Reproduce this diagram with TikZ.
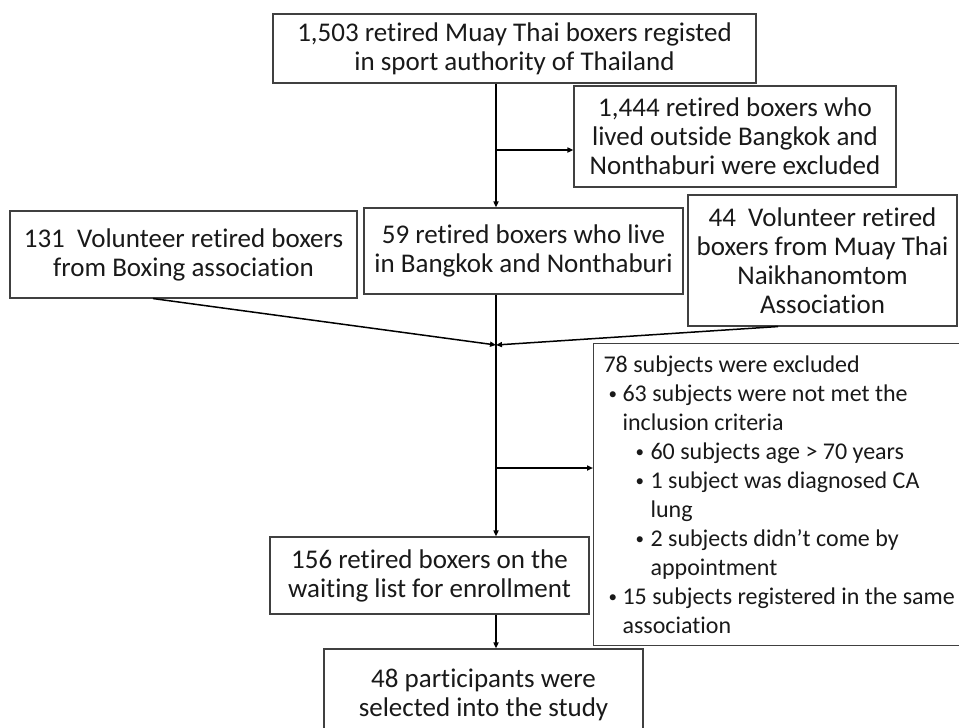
\documentclass[tikz,border=0pt]{standalone}
\usepackage{fontspec}
\setmainfont{Carlito}[Ligatures=NoCommon]
\usetikzlibrary{arrows.meta}

\begin{document}
\begin{tikzpicture}[x=1pt,y=-1pt]

% stile dei riquadri
\tikzset{mybox/.style={rectangle, draw=black!75, line width=1.1pt, align=center, inner sep=0pt, text=black!90, font=\fontsize{27}{29}\selectfont}}
% stile delle frecce
\tikzset{myarrow/.style={line width=1.5pt, draw=black, -{Triangle[length=6pt,width=5pt]}}}

% area del disegno
\useasboundingbox (0,0) rectangle (959,728);

% riquadri della colonna centrale
\node[mybox, minimum width=483pt, minimum height=69pt] (reg) at (514.5,48.5) {1,503 retired Muay Thai boxers registed\\in sport authority of Thailand};
\node[mybox, minimum width=319pt, minimum height=86pt] (live) at (523.5,251) {59 retired boxers who live\\in Bangkok and Nonthaburi};
\node[mybox, minimum width=319pt, minimum height=77pt] (wait) at (429.5,575.5) {156 retired boxers on the\\waiting list for enrollment};
\node[mybox, minimum width=319pt, minimum height=92pt] (final) at (483.5,695) {48 participants were\\selected into the study};

% riquadri laterali
\node[mybox, minimum width=322pt, minimum height=101pt] (out1) at (735,136.5) {1,444 retired boxers who\\lived outside Bangkok and\\Nonthaburi were excluded};
\node[mybox, minimum width=347pt, minimum height=87pt] (vol1) at (183.5,254.5) {131\ \ Volunteer retired boxers\\from Boxing association};
\node[mybox, minimum width=269pt, minimum height=131pt] (vol2) at (822.5,260.5) {44\ \ Volunteer retired\\boxers from Muay Thai\\Naikhanomtom\\Association};

% riquadro degli esclusi con elenco puntato
\node[mybox, font=\fontsize{24}{29}\selectfont, anchor=north west, align=flush left, text width=420pt, inner xsep=10pt, minimum height=302pt] (out2) at (593,343) {78 subjects were excluded\\
\hspace*{5pt}\makebox[14pt][l]{\raisebox{1.5pt}{\fontsize{17}{17}\selectfont\textbullet}}63 subjects were not met the\\
\hspace*{19pt}inclusion criteria\\
\hspace*{32pt}\makebox[15pt][l]{\raisebox{1.5pt}{\fontsize{17}{17}\selectfont\textbullet}}60 subjects age > 70 years\\
\hspace*{32pt}\makebox[15pt][l]{\raisebox{1.5pt}{\fontsize{17}{17}\selectfont\textbullet}}1 subject was diagnosed CA\\
\hspace*{47pt}lung\\
\hspace*{32pt}\makebox[15pt][l]{\raisebox{1.5pt}{\fontsize{17}{17}\selectfont\textbullet}}2 subjects didn’t come by\\
\hspace*{47pt}appointment\\
\hspace*{5pt}\makebox[14pt][l]{\raisebox{1.5pt}{\fontsize{17}{17}\selectfont\textbullet}}15 subjects registered in the same\\
\hspace*{19pt}association};

% punti sull'asse principale
\coordinate (k1) at (496,150);
\coordinate (merge) at (496,345);
\coordinate (k2) at (496,468);

% frecce lungo l'asse
\draw[myarrow] (reg.south -| k1) -- (live.north -| k1);
\draw[myarrow] (live.south -| k2) -- (wait.north -| k2);
\draw[myarrow] (wait.south -| k2) -- (final.north -| k2);

% frecce verso gli esclusi
\draw[myarrow] (k1) -- (k1 -| out1.west);
\draw[myarrow] (k2) -- (k2 -| out2.west);

% frecce dei volontari verso l'asse
\draw[myarrow] ([xshift=-30.5pt]vol1.south) -- (merge);
\draw[myarrow] ([xshift=-44.5pt]vol2.south) -- (merge);

\end{tikzpicture}
\end{document}
